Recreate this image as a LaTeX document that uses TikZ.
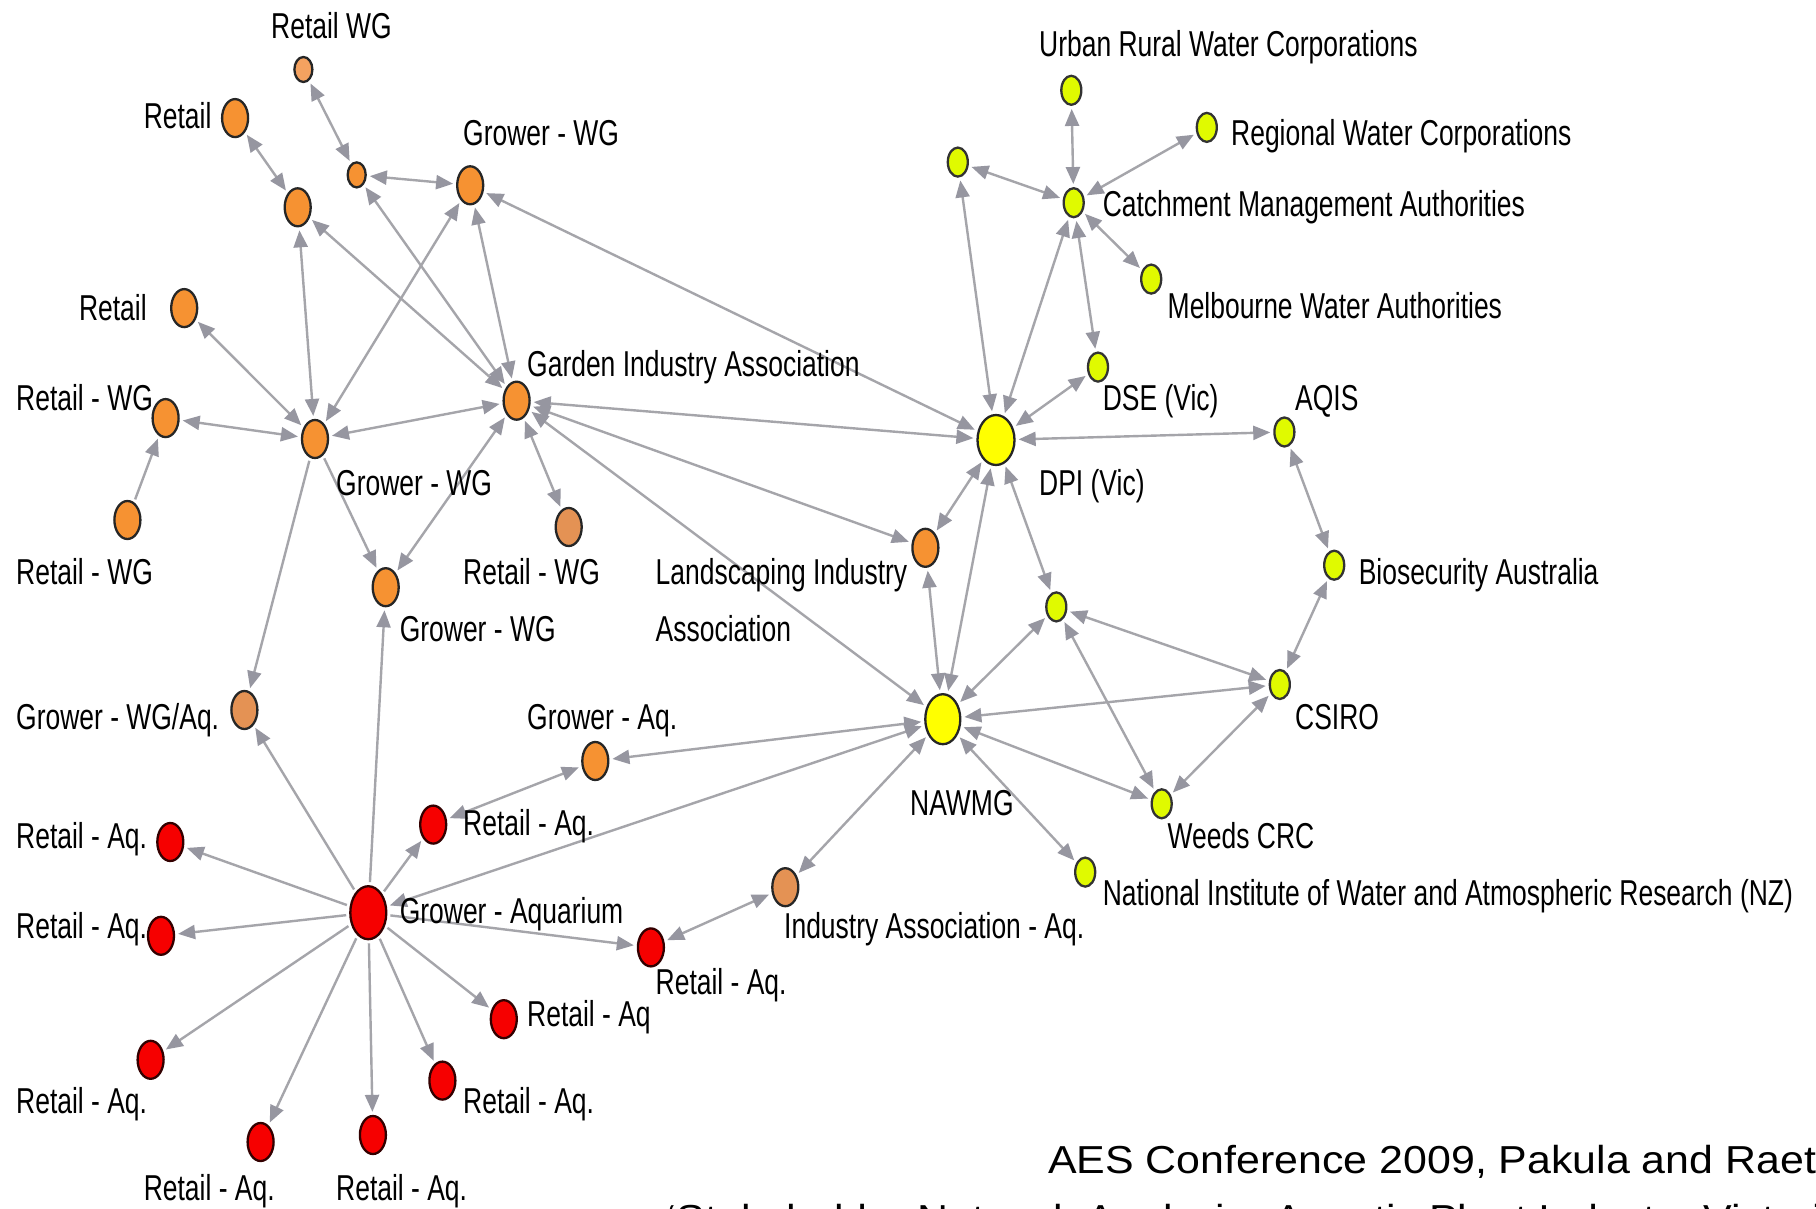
\documentclass[tikz,border=0pt]{standalone}
\usepackage{fontspec}
\usepackage{graphicx}
\usetikzlibrary{arrows.meta,shapes.geometric,backgrounds}
\setmainfont{Liberation Sans}
\newcommand\nlab[1]{\scalebox{0.735}[1]{#1}}
\definecolor{org}{RGB}{246,146,50}
\definecolor{orgl}{RGB}{244,162,96}
\definecolor{orgm}{RGB}{228,146,84}
\definecolor{ylw}{RGB}{255,255,0}
\definecolor{lime}{RGB}{224,250,0}
\definecolor{rd}{RGB}{246,0,0}
\definecolor{edgec}{RGB}{165,165,170}
\definecolor{tipc}{RGB}{150,150,160}
\tikzset{
  vtx/.style={ellipse, draw=black!85, line width=2.3pt, inner sep=0pt, minimum width=26pt, minimum height=38pt},
  onode/.style={vtx, fill=org},
  omut/.style={vtx, fill=orgm},
  osmall/.style={vtx, fill=orgl, minimum width=18pt, minimum height=25pt},
  ynode/.style={vtx, fill=lime, draw=black!80, minimum width=20pt, minimum height=29pt},
  ybig/.style={vtx, fill=ylw, minimum width=37pt, minimum height=50pt},
  rnode/.style={vtx, fill=rd, draw=black!80!red},
  rbig/.style={rnode, minimum width=36pt, minimum height=53pt},
  lab/.style={anchor=base west, inner sep=0pt, font=\fontsize{36}{40}\selectfont},
  foot/.style={anchor=base west, inner sep=0pt, font=\fontsize{39}{46}\selectfont},
  ed/.style={draw=edgec, line width=2.4pt, shorten >=3pt, shorten <=3pt},
  tip/.tip={Triangle[length=17pt,width=14pt,color=tipc]},
  bi/.style={ed, tip-tip},
  one/.style={ed, -tip},
}
\begin{document}
\begin{tikzpicture}[x=1pt,y=-1pt]
\useasboundingbox (0,0) rectangle (1816,1209);
\clip (0,0) rectangle (1816,1209);
% ---------- vertices ----------
\node[osmall] (o1) at (303.4,69.5) {};
\node[onode] (o2) at (235.1,118.1) {};
\node[osmall, fill=org] (o3) at (356.7,174.9) {};
\node[onode] (o4) at (470.2,185.3) {};
\node[onode] (o5) at (297.7,207.3) {};
\node[onode] (o6) at (184.2,308.1) {};
\node[onode] (o7) at (165.6,418.1) {};
\node[onode] (o8) at (315,439) {};
\node[onode] (gia) at (516.6,400.7) {};
\node[onode] (o10) at (127.4,520) {};
\node[omut] (o11) at (568.7,527) {};
\node[onode] (o12) at (385.7,587.2) {};
\node[onode] (lia) at (925.4,547.8) {};
\node[omut] (o14) at (244.4,710) {};
\node[onode] (o15) at (595.3,761) {};
\node[omut] (iaa) at (785.3,887.2) {};
\node[ybig] (dpi) at (996,440) {};
\node[ybig, minimum width=35pt] (nawmg) at (942.8,719.2) {};
\node[ynode] (y19) at (957.8,162.1) {};
\node[ynode] (urban) at (1071.3,90.3) {};
\node[ynode] (regional) at (1206.8,127.4) {};
\node[ynode] (cma) at (1073.7,202.7) {};
\node[ynode] (mwa) at (1151.2,279.1) {};
\node[ynode] (dse) at (1098,367.1) {};
\node[ynode] (aqis) at (1284.4,432) {};
\node[ynode] (bio) at (1334.2,565.2) {};
\node[ynode] (y27) at (1056.3,606.9) {};
\node[ynode] (csiro) at (1279.8,684.5) {};
\node[ynode] (weeds) at (1161.7,803.8) {};
\node[ynode] (niwa) at (1085.2,872.1) {};
\node[rbig] (ga) at (368.3,912.7) {};
\node[rnode] (r32) at (433.2,824.6) {};
\node[rnode] (r33) at (170.3,842) {};
\node[rnode] (r34) at (161,935.8) {};
\node[rnode] (r35) at (650.9,947.4) {};
\node[rnode] (r36) at (503.8,1019.2) {};
\node[rnode] (r37) at (150.6,1059.8) {};
\node[rnode] (r38) at (442.4,1080.6) {};
\node[rnode] (r39) at (260.6,1142) {};
\node[rnode] (r40) at (372.9,1135) {};
% ---------- labels ----------
\node[lab] (t1) at (271,38.5) {\nlab{Retail WG}};
\node[lab] (t2) at (143.6,129) {\nlab{Retail}};
\node[lab] (t4) at (463,146) {\nlab{Grower - WG}};
\node[lab] (t6) at (78.8,320) {\nlab{Retail}};
\node[lab] (t7) at (16,410) {\nlab{Retail - WG}};
\node[lab] (tgia) at (527,376) {\nlab{Garden Industry Association}};
\node[lab] (t8) at (336,495) {\nlab{Grower - WG}};
\node[lab] (t10) at (16,584) {\nlab{Retail - WG}};
\node[lab] (t11) at (463,584) {\nlab{Retail - WG}};
\node[lab] (tlia1) at (655.5,584) {\nlab{Landscaping Industry}};
\node[lab] (tlia2) at (655.5,641) {\nlab{Association}};
\node[lab] (t12) at (399.6,641) {\nlab{Grower - WG}};
\node[lab] (t14) at (16,729) {\nlab{Grower - WG/Aq.}};
\node[lab] (t15) at (527,729) {\nlab{Grower - Aq.}};
\node[lab] (t32) at (463,835) {\nlab{Retail - Aq.}};
\node[lab] (t33) at (16,848) {\nlab{Retail - Aq.}};
\node[lab] (tga) at (399.6,923) {\nlab{Grower - Aquarium}};
\node[lab] (t34) at (16,938) {\nlab{Retail - Aq.}};
\node[lab] (t35) at (655.5,994) {\nlab{Retail - Aq.}};
\node[lab] (t36) at (527,1026) {\nlab{Retail - Aq}};
\node[lab] (t37) at (16,1113) {\nlab{Retail - Aq.}};
\node[lab] (t38) at (463,1113) {\nlab{Retail - Aq.}};
\node[lab] (t39) at (143.6,1200) {\nlab{Retail - Aq.}};
\node[lab] (t40) at (336,1200) {\nlab{Retail - Aq.}};
\node[lab] (tiaa) at (784,938) {\nlab{Industry Association - Aq.}};
\node[lab] (tnawmg) at (910,815.6) {\nlab{NAWMG}};
\node[lab] (tdpi) at (1039,495) {\nlab{DPI (Vic)}};
\node[lab] (tdse) at (1102.6,410) {\nlab{DSE (Vic)}};
\node[lab] (taqis) at (1295,410) {\nlab{AQIS}};
\node[lab] (turban) at (1039,57) {\nlab{Urban Rural Water Corporations}};
\node[lab] (treg) at (1231,146) {\nlab{Regional Water Corporations}};
\node[lab] (tcma) at (1102.6,217) {\nlab{Catchment Management Authorities}};
\node[lab] (tmwa) at (1167.5,319) {\nlab{Melbourne Water Authorities}};
\node[lab] (tbio) at (1358.6,584) {\nlab{Biosecurity Australia}};
\node[lab] (tcsiro) at (1295,729) {\nlab{CSIRO}};
\node[lab] (tweeds) at (1167.5,848) {\nlab{Weeds CRC}};
\node[lab] (tniwa) at (1102.6,905) {\nlab{National Institute of Water and Atmospheric Research (NZ)}};
% ---------- footer ----------
\node[foot] (f1) at (1048,1173) {\scalebox{1.1}[1]{AES Conference 2009, Pakula and Raetz}};
\node[foot] (f2) at (667,1232) {\scalebox{1.1}[1]{‘Stakeholder Network Analysis: Aquatic Plant Industry Victoria’}};
% ---------- edges ----------
\begin{scope}[on background layer]
\fill[white] (0,0) rectangle (1816,1209);
\foreach \a/\b in {o1/o3, o2/o5, o3/o4, o3/gia, o5/gia, o5/o8, o4/o8, o4/gia, o4/dpi,
  o6/o8, o7/o8, o8/gia, gia/o12, gia/o11, gia/dpi, gia/lia, gia/nawmg,
  o15/r32, nawmg/o15, ga/nawmg, iaa/r35, nawmg/iaa, nawmg/lia, nawmg/dpi, dpi/lia,
  dpi/y19, dpi/cma, dpi/dse, dpi/aqis, dpi/y27, cma/dse, cma/urban, cma/regional,
  cma/y19, cma/mwa, aqis/bio, csiro/bio, csiro/y27, csiro/nawmg, csiro/weeds,
  y27/nawmg, y27/weeds, nawmg/weeds, nawmg/niwa}
  \draw[bi] (\a) -- (\b);
\foreach \a/\b in {o10/o7, o8/o12, o8/o14, ga/o14, ga/o12, ga/r32, ga/r33, ga/r34,
  ga/r35, ga/r36, ga/r37, ga/r38, ga/r39, ga/r40}
  \draw[one] (\a) -- (\b);
\end{scope}
\end{tikzpicture}
\end{document}
